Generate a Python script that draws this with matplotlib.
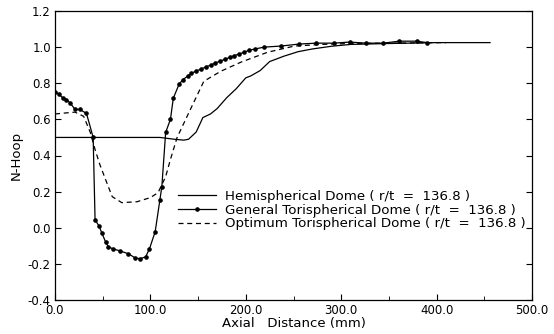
import matplotlib
matplotlib.use("Agg")
import matplotlib.pyplot as plt
import numpy as np

# hemispherical dome
hemi_x = [0, 20, 50, 80, 110, 125, 135, 140, 148, 155, 163, 170, 180, 190,
          200, 205, 215, 225, 240, 255, 270, 290, 310, 350, 400, 456]
hemi_y = [0.50, 0.50, 0.50, 0.50, 0.50, 0.49, 0.485, 0.49, 0.53, 0.61, 0.63,
          0.66, 0.72, 0.77, 0.83, 0.84, 0.87, 0.92, 0.95, 0.975, 0.99, 1.005,
          1.015, 1.02, 1.025, 1.025]

# general torispherical dome
gen_x = [0, 4, 8, 12, 16, 21, 26, 33, 40, 42, 46, 49, 53, 56, 61, 68, 77, 84,
         89, 95, 99, 105, 110, 112, 116, 121, 124, 130, 134, 139, 143, 148,
         153, 158, 163, 168, 173, 178, 183, 188, 193, 198, 203, 210, 219, 237,
         256, 274, 292, 309, 326, 344, 361, 379, 390]
gen_y = [0.75, 0.74, 0.72, 0.71, 0.69, 0.655, 0.655, 0.633, 0.50, 0.044,
         0.011, -0.028, -0.078, -0.106, -0.117, -0.128, -0.144, -0.167,
         -0.172, -0.161, -0.117, -0.022, 0.156, 0.228, 0.528, 0.60, 0.717,
         0.794, 0.82, 0.839, 0.855, 0.868, 0.878, 0.89, 0.90, 0.912, 0.922,
         0.932, 0.943, 0.953, 0.962, 0.971, 0.982, 0.99, 1.0, 1.006, 1.017,
         1.022, 1.022, 1.028, 1.022, 1.022, 1.033, 1.033, 1.025]

# optimum torispherical dome
opt_x = [0, 10, 21, 30, 37, 42, 47, 53, 60, 70, 86, 100, 108, 116, 121, 128,
         142, 156, 174, 195, 223, 251, 280, 310, 350, 410]
opt_y = [0.63, 0.635, 0.64, 0.617, 0.528, 0.433, 0.35, 0.267, 0.172, 0.139,
         0.144, 0.167, 0.194, 0.283, 0.378, 0.50, 0.656, 0.811, 0.867, 0.917,
         0.972, 1.006, 1.015, 1.02, 1.022, 1.025]

xticks = [0, 100, 200, 300, 400, 500]
yticks = [-0.4, -0.2, 0.0, 0.2, 0.4, 0.6, 0.8, 1.0, 1.2]

plt.rcParams['font.family'] = 'DejaVu Sans'
fig = plt.figure(figsize=(5.54, 3.34), dpi=100)
ax = fig.add_axes([55/554, 34/334, 477/554, 289/334])

ax.plot(hemi_x, hemi_y, color='black', lw=0.9,
        label='Hemispherical Dome ( r/t  =  136.8 )')
ax.plot(gen_x, gen_y, color='black', lw=0.9, marker='o', ms=2.3,
        label='General Torispherical Dome ( r/t  =  136.8 )')
ax.plot(opt_x, opt_y, color='black', lw=0.9, ls=(0, (4, 3)),
        label='Optimum Torispherical Dome ( r/t  =  136.8 )')

ax.set_xlim(0, 500)
ax.set_ylim(-0.4, 1.2)
ax.set_xticks(xticks)
ax.set_xticklabels(['%.1f' % v for v in xticks])
ax.set_xticks([50, 150, 250, 350, 450], minor=True)
ax.set_yticks(yticks)
ax.set_yticklabels(['%.1f' % v for v in yticks])
ax.tick_params(direction='in', length=4, labelsize=8.5, right=True, pad=3)
ax.tick_params(which='minor', direction='in', length=3)
for s in ax.spines.values():
    s.set_linewidth(0.9)

ax.set_xlabel('Axial   Distance (mm)', fontsize=9.5, labelpad=0)
ax.set_ylabel('N-Hoop', fontsize=9.5, labelpad=4)

ax.legend(loc='lower right', bbox_to_anchor=(1.012, 0.2), frameon=False,
          fontsize=9.6, handlelength=2.8, handletextpad=0.7, labelspacing=0.05)

fig.savefig('out.png', dpi=100)
